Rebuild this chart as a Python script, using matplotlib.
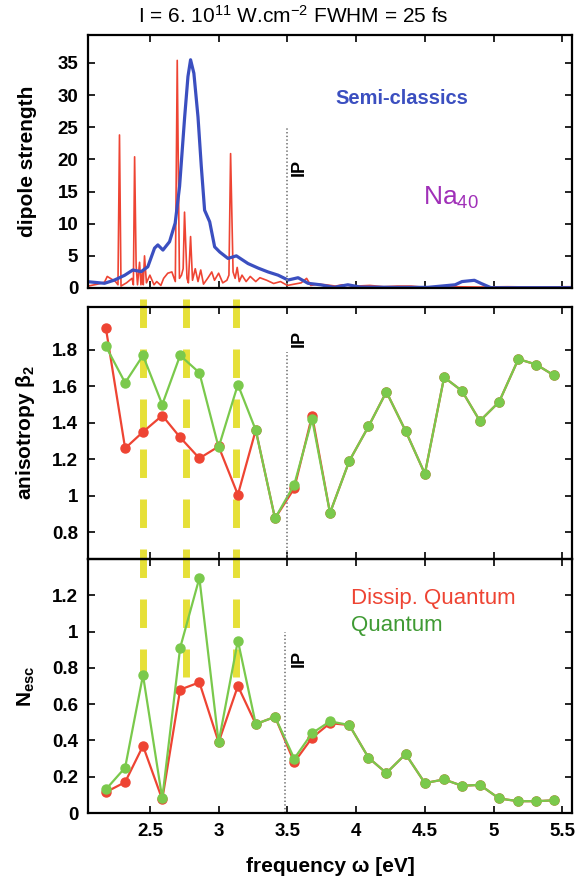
import matplotlib
matplotlib.use('Agg')
import matplotlib.pyplot as plt
from matplotlib.lines import Line2D
from matplotlib.ticker import FuncFormatter
import matplotlib.transforms as mtransforms

plt.rcParams['font.family'] = ['Liberation Sans', 'DejaVu Sans']
plt.rcParams['mathtext.default'] = 'regular'
plt.rcParams['lines.scale_dashes'] = False

# --- dipole strength spectra ---
semi_freq = [2.048, 2.17, 2.243, 2.316, 2.376, 2.437, 2.485, 2.534, 2.558, 2.595,
             2.643, 2.684, 2.716, 2.753, 2.777, 2.796, 2.82, 2.85, 2.874, 2.898,
             2.935, 2.971, 3.008, 3.068, 3.129, 3.214, 3.287, 3.359, 3.432, 3.505,
             3.578, 3.65, 3.74, 3.84, 3.94, 4.03, 4.28, 4.52, 4.72, 4.77, 4.86,
             4.91, 4.98, 5.57]
semi_dip = [0.98, 0.73, 1.24, 1.97, 2.8, 2.55, 3.3, 6.2, 6.7, 5.9,
            7.2, 10.1, 15.8, 26.6, 32.9, 35.5, 33.4, 26.6, 18.9, 12.1,
            10.3, 6.4, 5.6, 4.6, 5.0, 3.8, 3.1, 2.5, 2.0, 1.24,
            1.6, 0.73, 0.5, 0.1, 0.5, 0.15, 0.1, 0.1, 0.5, 1.0, 1.2,
            0.7, 0.05, 0.05]

quant_freq = [2.05, 2.12, 2.17, 2.19, 2.25, 2.268, 2.279, 2.29, 2.33, 2.37, 2.38, 2.389,
              2.40, 2.41, 2.425, 2.435, 2.445, 2.452, 2.461, 2.475, 2.50, 2.53, 2.55, 2.58,
              2.60, 2.63, 2.66, 2.685, 2.699, 2.715, 2.73, 2.742, 2.752, 2.77, 2.78, 2.796,
              2.81, 2.83, 2.85, 2.87, 2.89, 2.92, 2.95, 2.97, 3.00, 3.03, 3.06, 3.075,
              3.087, 3.105, 3.12, 3.135, 3.15, 3.17, 3.20, 3.23, 3.27, 3.30, 3.35, 3.40,
              3.45, 3.50, 3.55, 3.60, 3.64, 3.67, 3.72, 3.78, 3.85, 3.90, 4.00, 4.10,
              4.20, 4.30, 4.40, 4.50, 4.70, 4.90, 5.10, 5.30, 5.57]
quant_dip = [0.3, 0.6, 0.9, 1.8, 1.0, 0.5, 23.8, 0.3, 0.8, 1.5, 0.5, 20.4,
             3.5, 0.5, 4.0, 0.5, 2.5, 0.5, 5.0, 0.8, 2.0, 0.5, 1.0, 0.4,
             1.5, 2.3, 2.5, 1.0, 35.4, 1.5, 2.0, 3.0, 11.8, 1.5, 0.8, 8.0,
             1.2, 3.0, 1.0, 2.8, 0.6, 1.5, 2.5, 1.2, 2.3, 0.8, 1.2, 2.0,
             20.9, 2.5, 1.5, 3.2, 1.0, 2.0, 1.0, 1.8, 1.0, 1.6, 1.2, 0.7,
             1.0, 0.4, 0.6, 0.8, 1.5, 0.4, 0.6, 0.5, 0.3, 0.5, 0.3, 0.4,
             0.2, 0.3, 0.3, 0.1, 0.2, 0.15, 0.2, 0.15, 0.2]

# --- per-frequency observables ---
freq = [2.18, 2.32, 2.45, 2.59, 2.72, 2.86, 3.00, 3.14, 3.27, 3.41, 3.55, 3.68, 3.81,
        3.95, 4.09, 4.22, 4.36, 4.50, 4.64, 4.77, 4.90, 5.04, 5.18, 5.31, 5.44]
beta_quantum = [1.82, 1.62, 1.77, 1.50, 1.77, 1.675, 1.265, 1.61, 1.36, 0.875, 1.06,
                1.42, 0.905, 1.19, 1.38, 1.57, 1.355, 1.12, 1.65, 1.575, 1.41, 1.515,
                1.75, 1.72, 1.66]
beta_dissip = [1.92, 1.26, 1.35, 1.44, 1.32, 1.205, 1.27, 1.005, 1.36, 0.875, 1.04,
               1.44, 0.905, 1.19, 1.38, 1.57, 1.355, 1.12, 1.65, 1.575, 1.41, 1.515,
               1.75, 1.72, 1.66]
nesc_quantum = [0.13, 0.25, 0.76, 0.08, 0.91, 1.295, 0.39, 0.95, 0.49, 0.53, 0.30,
                0.44, 0.505, 0.485, 0.305, 0.22, 0.325, 0.165, 0.185, 0.15, 0.155,
                0.08, 0.065, 0.065, 0.07]
nesc_dissip = [0.115, 0.17, 0.37, 0.075, 0.68, 0.72, 0.39, 0.70, 0.49, 0.53, 0.28,
               0.415, 0.495, 0.485, 0.305, 0.22, 0.325, 0.165, 0.185, 0.15, 0.155,
               0.08, 0.065, 0.065, 0.07]

resonances = [2.45, 2.76, 3.13]
ip_energy = 3.5

RED = '#ee4433'
GREEN = '#7ac94c'
BLUE = '#3b4fc0'
YELLOW = '#e6e038'

W, H = 586, 882
fig = plt.figure(figsize=(W / 100, H / 100), dpi=100)


def panel(top, bottom):
    return fig.add_axes([88 / W, 1 - bottom / H, 484 / W, (bottom - top) / H])


ax1 = panel(35, 288)
ax2 = panel(307, 559)
ax3 = panel(559, 813)

fmt = FuncFormatter(lambda v, p: '%g' % round(v, 3))
for ax in (ax1, ax2, ax3):
    ax.patch.set_alpha(0)
    ax.set_xlim(2.05, 5.57)
    ax.set_xticks([2.5, 3, 3.5, 4, 4.5, 5, 5.5])
    ax.xaxis.set_major_formatter(fmt)
    ax.yaxis.set_major_formatter(fmt)
    ax.tick_params(direction='in', top=True, right=True, length=5, width=1.2,
                   labelsize=13.5, pad=7)
    for lab in ax.get_xticklabels() + ax.get_yticklabels():
        lab.set_fontweight('bold')
    for s in ax.spines.values():
        s.set_linewidth(1.6)
ax1.tick_params(labelbottom=False)
ax2.tick_params(labelbottom=False)

# dipole spectra
ax1.plot(quant_freq, quant_dip, color=RED, lw=1.2)
ax1.plot(semi_freq, semi_dip, color=BLUE, lw=2.3)
ax1.set_ylim(0, 39.35)
ax1.set_yticks([0, 5, 10, 15, 20, 25, 30, 35])
ax1.plot([ip_energy, ip_energy], [0, 25], color='#888888', ls=':', lw=1.4)
ax1.text(3.587, 18.7, 'IP', rotation=90, fontsize=13, fontweight='bold',
         ha='center', va='center')
ax1.text(4.335, 29.5, 'Semi-classics', color=BLUE, fontsize=14.5, fontweight='bold',
         ha='center', va='center')
ax1.text(4.49, 14.0, 'Na$_{40}$', color='#a030b8', fontsize=19, ha='left', va='center')
ax1.set_ylabel('dipole strength', fontsize=15, fontweight='bold')

# anisotropy
ax2.plot(freq, beta_dissip, color=RED, lw=1.6, marker='o', ms=6.5, mec=RED)
ax2.plot(freq, beta_quantum, color=GREEN, lw=1.6, marker='o', ms=6.5, mec=GREEN)
ax2.set_ylim(0.652, 2.036)
ax2.set_yticks([0.8, 1, 1.2, 1.4, 1.6, 1.8])
ax2.plot([ip_energy, ip_energy], [0.652, 1.79], color='#888888', ls=':', lw=1.4)
ax2.text(3.587, 1.864, 'IP', rotation=90, fontsize=13, fontweight='bold',
         ha='center', va='center')
ax2.set_ylabel('anisotropy β$_2$', fontsize=15, fontweight='bold')

# escaped electrons
ax3.plot(freq, nesc_dissip, color=RED, lw=1.6, marker='o', ms=6.5, mec=RED)
ax3.plot(freq, nesc_quantum, color=GREEN, lw=1.6, marker='o', ms=6.5, mec=GREEN)
ax3.set_ylim(0, 1.4)
ax3.set_yticks([0, 0.2, 0.4, 0.6, 0.8, 1, 1.2])
ax3.plot([3.48, 3.48], [0, 1.0], color='#888888', ls=':', lw=1.4)
ax3.text(3.587, 0.852, 'IP', rotation=90, fontsize=13, fontweight='bold',
         ha='center', va='center')
ax3.text(3.96, 1.18, 'Dissip. Quantum', color=RED, fontsize=16, ha='left', va='center')
ax3.text(3.96, 1.035, 'Quantum', color='#3f9a33', fontsize=16, ha='left', va='center')
ax3.set_ylabel('N$_{esc}$', fontsize=15, fontweight='bold')
ax3.set_xlabel('frequency ω [eV]', fontsize=15, fontweight='bold')
ax3.xaxis.set_label_coords(0.5, -0.175)

for ax in (ax1, ax2, ax3):
    ax.yaxis.set_label_coords(-0.105, 0.5)

# resonance markers across the lower panels
trans = mtransforms.blended_transform_factory(ax2.transData, fig.transFigure)
for r in resonances:
    fig.add_artist(Line2D([r, r], [1 - 299 / H, 1 - 677 / H], transform=trans,
                          color=YELLOW, lw=5, dashes=(20.5, 15.5), zorder=-1,
                          solid_capstyle='butt', dash_capstyle='butt'))

fig.text(0.5, 1 - 16 / H, 'I = 6. 10$^{11}$ W.cm$^{-2}$ FWHM = 25 fs',
         fontsize=15, ha='center', va='center')

fig.savefig('out.png', dpi=100, facecolor='white')
